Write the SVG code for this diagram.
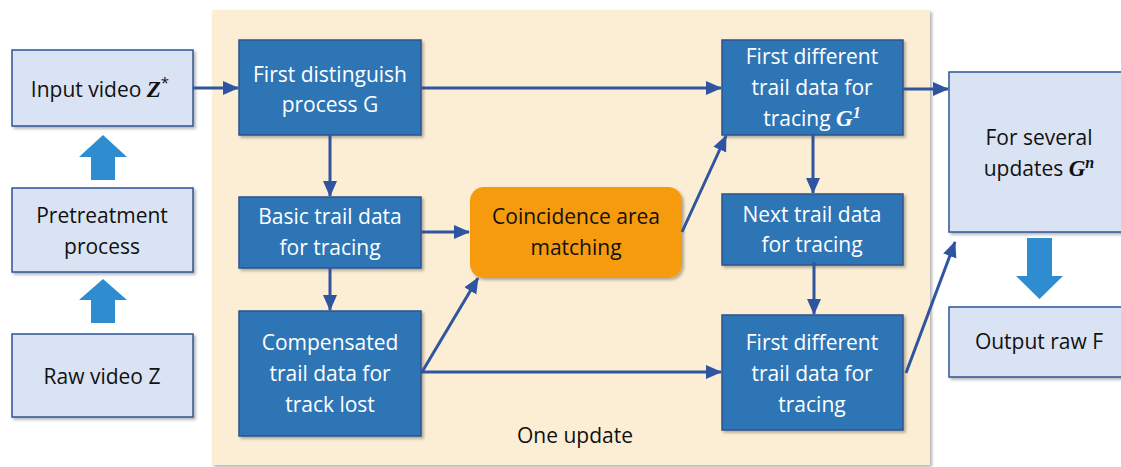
<svg xmlns="http://www.w3.org/2000/svg" width="1121" height="467" viewBox="0 0 1121 467">
<defs>
<filter id="sh" x="-10%" y="-10%" width="130%" height="130%"><feDropShadow dx="2" dy="2" stdDeviation="1.5" flood-color="#000" flood-opacity="0.3"/></filter>
<marker id="ahb" markerWidth="16" markerHeight="16" refX="15" refY="8" orient="auto" markerUnits="userSpaceOnUse" viewBox="0 0 16 16"><path d="M0,1 L16,8 L0,15 z" fill="#2f55a0"/></marker>
</defs>
<style>
.lt{fill:#dae3f3;stroke:#2f5597;stroke-width:1.5}
.dk{fill:#2e75b6;stroke:#2f528f;stroke-width:1.5}
.or{fill:#f59b0e;stroke:none}
text{font-family:"Open Sans","Liberation Sans",sans-serif;font-size:21px;text-anchor:middle}
.w{fill:#ffffff}
.b{fill:#111111}
.m{font-family:"Liberation Serif",serif;font-style:italic;font-weight:bold}
.c{fill:none;stroke:#2f55a0;stroke-width:3}
.fat{fill:#2e8dd0}
</style>
<rect x="0" y="0" width="1121" height="467" fill="#ffffff"/>
<rect x="212" y="10" width="718" height="455" fill="#fbeed5" filter="url(#sh)"/>

<g id="input">
<rect class="lt" x="12" y="50" width="181" height="76" filter="url(#sh)"/>
<text class="b" x="100" y="97">Input video <tspan class="m" font-size="23">Z</tspan><tspan font-size="15" dy="-9">*</tspan></text>
</g>
<g id="pretreatment">
<rect class="lt" x="12" y="188" width="181" height="84" filter="url(#sh)"/>
<text class="b" x="102" y="223">Pretreatment</text>
<text class="b" x="102" y="254">process</text>
</g>
<g id="raw">
<rect class="lt" x="12" y="334" width="181" height="83" filter="url(#sh)"/>
<text class="b" x="102" y="384">Raw video Z</text>
</g>
<g id="fat-arrows">
<path class="fat" d="M91,180 L91,157 L79,157 L103,135 L127,157 L115,157 L115,180 z"/>
<path class="fat" d="M91,323 L91,300 L79,300 L103,279 L127,300 L115,300 L115,323 z"/>
<path class="fat" d="M1027,238 L1052,238 L1052,276 L1063,276 L1039.5,299 L1016,276 L1027,276 z"/>
</g>

<g id="first-distinguish">
<rect class="dk" x="239" y="40" width="182" height="95" filter="url(#sh)"/>
<text class="w" x="330" y="82">First distinguish</text>
<text class="w" x="330" y="112">process G</text>
</g>
<g id="basic">
<rect class="dk" x="239" y="197" width="182" height="71" filter="url(#sh)"/>
<text class="w" x="330" y="224">Basic trail data</text>
<text class="w" x="330" y="255">for tracing</text>
</g>
<g id="compensated">
<rect class="dk" x="239" y="311" width="182" height="125" filter="url(#sh)"/>
<text class="w" x="330" y="350">Compensated</text>
<text class="w" x="330" y="381">trail data for</text>
<text class="w" x="330" y="412">track lost</text>
</g>
<g id="coincidence">
<rect class="or" x="470" y="187" width="212" height="91" rx="14" filter="url(#sh)"/>
<text class="b" x="576" y="224">Coincidence area</text>
<text class="b" x="576" y="255">matching</text>
</g>
<g id="first-different-top">
<rect class="dk" x="722" y="40" width="181" height="95" filter="url(#sh)"/>
<text class="w" x="812" y="64">First different</text>
<text class="w" x="812" y="95">trail data for</text>
<text class="w" x="812" y="126">tracing <tspan class="m" font-size="23">G</tspan><tspan class="m" font-size="16" dy="-8">1</tspan></text>
</g>
<g id="next">
<rect class="dk" x="722" y="194" width="181" height="71" filter="url(#sh)"/>
<text class="w" x="812" y="222">Next trail data</text>
<text class="w" x="812" y="252">for tracing</text>
</g>
<g id="first-different-bottom">
<rect class="dk" x="722" y="315" width="181" height="115" filter="url(#sh)"/>
<text class="w" x="812" y="350">First different</text>
<text class="w" x="812" y="381">trail data for</text>
<text class="w" x="812" y="412">tracing</text>
</g>
<g id="several">
<rect class="lt" x="949" y="72" width="180" height="160" filter="url(#sh)"/>
<text class="b" x="1039" y="145">For several</text>
<text class="b" x="1039" y="176">updates <tspan class="m" font-size="23">G</tspan><tspan class="m" font-size="16" dy="-8">n</tspan></text>
</g>
<g id="output">
<rect class="lt" x="949" y="307" width="180" height="70" filter="url(#sh)"/>
<text class="b" x="1039" y="349">Output raw F</text>
</g>
<g id="label">
<text class="b" x="575" y="443">One update</text>
</g>

<g id="connectors">
<line class="c" x1="193" y1="88" x2="238" y2="88" marker-end="url(#ahb)"/>
<line class="c" x1="421" y1="88" x2="721" y2="88" marker-end="url(#ahb)"/>
<line class="c" x1="330" y1="135" x2="330" y2="196" marker-end="url(#ahb)"/>
<line class="c" x1="421" y1="232" x2="469" y2="232" marker-end="url(#ahb)"/>
<line class="c" x1="330" y1="268" x2="330" y2="310" marker-end="url(#ahb)"/>
<line class="c" x1="422" y1="372" x2="478" y2="278" marker-end="url(#ahb)"/>
<line class="c" x1="421" y1="372" x2="721" y2="372" marker-end="url(#ahb)"/>
<line class="c" x1="682" y1="232" x2="726" y2="136" marker-end="url(#ahb)"/>
<line class="c" x1="813" y1="135" x2="813" y2="193" marker-end="url(#ahb)"/>
<line class="c" x1="814" y1="262" x2="814" y2="314" marker-end="url(#ahb)"/>
<line class="c" x1="903" y1="89" x2="948" y2="89" marker-end="url(#ahb)"/>
<line class="c" x1="906" y1="373" x2="955" y2="242" marker-end="url(#ahb)"/>
</g>
</svg>
